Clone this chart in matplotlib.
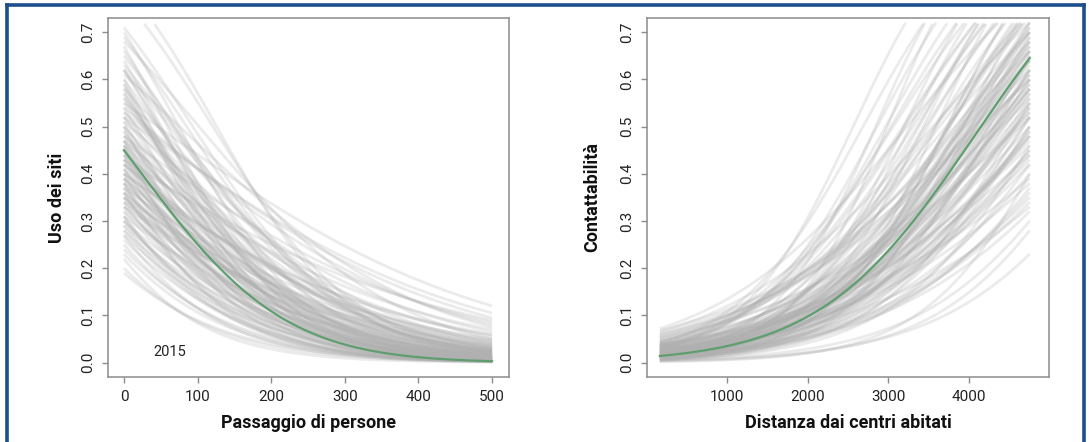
import numpy as np
import matplotlib
matplotlib.use("Agg")
import matplotlib.pyplot as plt
from matplotlib.lines import Line2D

# ---------------- data ----------------
# Left panel: posterior curves, value at x=0 and at x=500
L_XRANGE = [0, 500]
L_START = [0.20, 0.19, 0.22, 0.24, 0.26, 0.27, 0.28, 0.29, 0.30, 0.31,
           0.31, 0.32, 0.33, 0.33, 0.34, 0.35, 0.35, 0.36, 0.36, 0.37,
           0.37, 0.38, 0.38, 0.39, 0.39, 0.40, 0.40, 0.41, 0.41, 0.42,
           0.42, 0.43, 0.43, 0.44, 0.44, 0.45, 0.45, 0.46, 0.46, 0.47,
           0.47, 0.48, 0.48, 0.49, 0.50, 0.50, 0.51, 0.52, 0.53, 0.54,
           0.55, 0.56, 0.57, 0.58, 0.59, 0.60, 0.61, 0.62, 0.63, 0.64,
           0.66, 0.68, 0.70, 0.71, 0.69, 0.77, 0.80, 0.62, 0.30, 0.34,
           0.38, 0.42, 0.46, 0.52, 0.56, 0.25, 0.28, 0.33, 0.36, 0.40,
           0.44, 0.49, 0.54, 0.60, 0.65, 0.35, 0.39, 0.43, 0.47, 0.58,
           0.27, 0.31, 0.34, 0.37, 0.40, 0.43, 0.46, 0.50, 0.53, 0.57,
           0.29, 0.32, 0.36, 0.39, 0.42, 0.45, 0.48, 0.51, 0.55, 0.62,
           0.23, 0.30, 0.35, 0.38, 0.41, 0.44, 0.47, 0.52, 0.59, 0.67]
L_END = [0.002, 0.003, 0.001, 0.004, 0.006, 0.002, 0.010, 0.004, 0.015, 0.003,
         0.025, 0.008, 0.012, 0.040, 0.005, 0.020, 0.009, 0.030, 0.003, 0.014,
         0.050, 0.007, 0.022, 0.011, 0.035, 0.004, 0.060, 0.018, 0.009, 0.028,
         0.045, 0.006, 0.016, 0.070, 0.012, 0.024, 0.005, 0.038, 0.013, 0.055,
         0.008, 0.020, 0.085, 0.010, 0.032, 0.003, 0.065, 0.015, 0.095, 0.007,
         0.120, 0.026, 0.011, 0.042, 0.004, 0.018, 0.075, 0.009, 0.030, 0.006,
         0.014, 0.050, 0.008, 0.020, 0.020, 0.022, 0.016, 0.030, 0.007, 0.035,
         0.002, 0.048, 0.002, 0.105, 0.013, 0.003, 0.004, 0.010, 0.026, 0.058,
         0.004, 0.016, 0.080, 0.005, 0.022, 0.045, 0.012, 0.090, 0.027, 0.006,
         0.008, 0.004, 0.020, 0.009, 0.016, 0.030, 0.010, 0.022, 0.040, 0.014,
         0.012, 0.018, 0.006, 0.028, 0.010, 0.015, 0.034, 0.006, 0.025, 0.011,
         0.003, 0.006, 0.014, 0.024, 0.008, 0.019, 0.012, 0.036, 0.009, 0.005]
# Mean curve (start, middle, end)
L_MEAN = [0.45, 0.066, 0.003]

# Right panel: posterior curves, value at x=160 and at x=4760
R_XRANGE = [160, 4760]
R_START = [0.004, 0.006, 0.008, 0.010, 0.012, 0.014, 0.016, 0.018, 0.020, 0.022,
           0.005, 0.007, 0.009, 0.011, 0.013, 0.015, 0.017, 0.019, 0.021, 0.024,
           0.026, 0.028, 0.030, 0.032, 0.034, 0.036, 0.038, 0.040, 0.043, 0.046,
           0.050, 0.055, 0.060, 0.066, 0.072, 0.003, 0.006, 0.009, 0.012, 0.015,
           0.018, 0.021, 0.025, 0.029, 0.033, 0.037, 0.042, 0.048, 0.054, 0.062,
           0.002, 0.005, 0.008, 0.011, 0.014, 0.017, 0.020, 0.023, 0.027, 0.031,
           0.035, 0.040, 0.045, 0.052, 0.058, 0.068, 0.010, 0.013, 0.016, 0.019,
           0.022, 0.025, 0.028, 0.031, 0.035, 0.039, 0.044, 0.030, 0.034, 0.038,
           0.007, 0.009, 0.012, 0.015, 0.018, 0.022, 0.026, 0.030, 0.036, 0.041,
           0.010, 0.013, 0.016, 0.019, 0.022, 0.025, 0.028, 0.012, 0.015, 0.018,
           0.021, 0.024, 0.027, 0.008, 0.011, 0.014, 0.017, 0.020, 0.023, 0.026,
           0.006, 0.009, 0.013, 0.016, 0.019, 0.024, 0.029, 0.033, 0.014, 0.020]
R_END = [0.23, 0.55, 0.80, 0.42, 0.68, 0.90, 0.35, 0.62, 0.75, 0.48,
         0.30, 0.72, 0.95, 0.52, 0.60, 0.40, 0.85, 0.66, 0.45, 0.78,
         0.58, 0.38, 0.92, 0.70, 0.50, 0.82, 0.64, 0.44, 0.86, 0.74,
         0.56, 0.66, 0.60, 0.72, 0.78, 0.28, 0.46, 0.62, 0.36, 0.88,
         0.54, 0.70, 0.33, 0.80, 0.47, 0.84, 0.58, 0.68, 0.52, 0.64,
         0.40, 0.76, 0.50, 0.86, 0.32, 0.64, 0.57, 0.74, 0.43, 0.90,
         0.61, 0.84, 0.53, 0.70, 0.62, 0.60, 0.37, 0.69, 0.95, 0.49,
         0.81, 0.42, 0.66, 0.55, 0.88, 0.39, 0.73, 0.96, 0.59, 0.46,
         0.65, 0.52, 0.77, 0.34, 0.71, 0.58, 0.83, 0.48, 0.67, 0.93,
         0.62, 0.55, 0.70, 0.48, 0.66, 0.58, 0.52, 0.74, 0.60, 0.45,
         0.68, 0.57, 0.63, 0.80, 0.50, 0.72, 0.44, 0.65, 0.54, 0.61,
         0.85, 0.69, 0.56, 0.76, 0.49, 0.67, 0.53, 0.59, 0.64, 0.71]
R_MEAN = [0.014, 0.15, 0.645]

Y_CLIP = 0.72
L_XTICKS = [0, 100, 200, 300, 400, 500]
R_XTICKS = [1000, 2000, 3000, 4000]
YTICKS = [0.0, 0.1, 0.2, 0.3, 0.4, 0.5, 0.6, 0.7]
YTICK_LABELS = ["0.0", "0.1", "0.2", "0.3", "0.4", "0.5", "0.6", "0.7"]
YEAR_LABEL = "2015"

L_XLABEL = "Passaggio di persone"
L_YLABEL = "Uso dei siti"
R_XLABEL = "Distanza dai centri abitati"
R_YLABEL = "Contattabilità"

# ---------------- helpers ----------------
def logit(p):
    p = np.asarray(p, float)
    return np.log(p / (1 - p))

def expit(z):
    return 1 / (1 + np.exp(-z))

def curve(xr, vals, n=400):
    """Logistic curve through given values at start(/middle)/end of range."""
    x = np.linspace(xr[0], xr[1], n)
    t = (x - xr[0]) / (xr[1] - xr[0])
    z = logit(vals)
    if len(vals) == 2:
        zz = z[0] + (z[1] - z[0]) * t
    else:
        c = 2 * (z[2] - 2 * z[1] + z[0])
        b = z[2] - z[0] - c
        zz = z[0] + b * t + c * t ** 2
    y = expit(zz)
    y = np.where(y > Y_CLIP, np.nan, y)
    return x, y

# ---------------- figure ----------------
W, H = 1091, 442
fig = plt.figure(figsize=(W / 100, H / 100), dpi=100)
fig.patch.set_facecolor("white")

TICK_FONT = "Roboto"
LABEL_FONT = "Roboto"
GRAY = "#b0b0b0"
GREEN = "#5f9e6e"
SPINE = "#8c8c8c"

ax1 = fig.add_axes([108 / W, (H - 377) / H, 401 / W, 359 / H])
ax2 = fig.add_axes([647 / W, (H - 377) / H, 402 / W, 359 / H])

for s, e in zip(L_START, L_END):
    x, y = curve(L_XRANGE, [s, e])
    ax1.plot(x, y, color=GRAY, alpha=0.25, lw=2.0, solid_capstyle="butt")
x, y = curve(L_XRANGE, L_MEAN)
ax1.plot(x, y, color=GREEN, lw=1.6)
ax1.text(62, 0.023, YEAR_LABEL, fontsize=10.5, family=TICK_FONT,
         color="#222222", ha="center", va="center")

for s, e in zip(R_START, R_END):
    x, y = curve(R_XRANGE, [s, e])
    ax2.plot(x, y, color=GRAY, alpha=0.25, lw=2.0, solid_capstyle="butt")
x, y = curve(R_XRANGE, R_MEAN)
ax2.plot(x, y, color=GREEN, lw=1.6)

ax1.set_xlim(-21.7, 523)
ax2.set_xlim(0, 5000)
ax1.set_xticks(L_XTICKS)
ax2.set_xticks(R_XTICKS)

for ax, xl, yl, ylx in [(ax1, L_XLABEL, L_YLABEL, -0.127),
                        (ax2, R_XLABEL, R_YLABEL, -0.137)]:
    ax.set_ylim(-0.0305, 0.730)
    ax.set_yticks(YTICKS)
    ax.set_yticklabels(YTICK_LABELS)
    for sp in ax.spines.values():
        sp.set_color(SPINE)
        sp.set_linewidth(1.1)
    ax.tick_params(axis="both", length=4.5, width=1.0, color=SPINE,
                   labelsize=11, labelcolor="#222222")
    ax.tick_params(axis="y", pad=5)
    ax.tick_params(axis="x", pad=5)
    for lbl in ax.get_yticklabels():
        lbl.set_rotation(90)
        lbl.set_va("center")
        lbl.set_family(TICK_FONT)
    for lbl in ax.get_xticklabels():
        lbl.set_family(TICK_FONT)
    ax.set_xlabel(xl, fontsize=13, fontweight="bold", family=LABEL_FONT,
                  color="#111111")
    ax.set_ylabel(yl, fontsize=13, fontweight="bold", family=LABEL_FONT,
                  color="#111111")
    ax.xaxis.set_label_coords(0.5, -0.128)
    ax.yaxis.set_label_coords(ylx, 0.5)
    ax.xaxis.label.set_va("center")
    ax.yaxis.label.set_va("center")

# blue frame (open at the bottom)
FRAME = "#1c4f8c"
def px(xp, yp):
    return xp / W, 1 - yp / H
for (x0, y0), (x1, y1) in [((6.5, 4.5), (1083.5, 4.5)),
                           ((6.5, 4.5), (6.5, 442)),
                           ((1083.5, 4.5), (1083.5, 442))]:
    a, b = px(x0, y0)
    c, d = px(x1, y1)
    fig.add_artist(Line2D([a, c], [b, d], color=FRAME, lw=2.6,
                          transform=fig.transFigure, solid_capstyle="projecting"))

fig.savefig("out.png", dpi=100)
